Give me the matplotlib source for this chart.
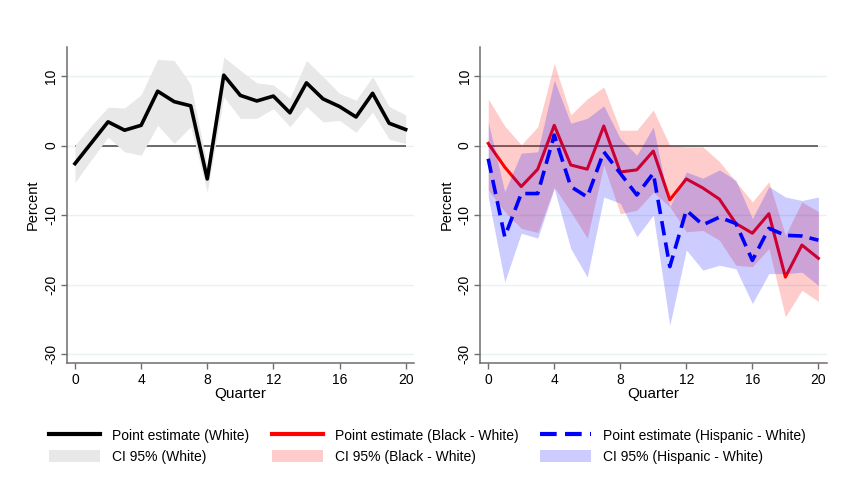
import matplotlib
matplotlib.use("Agg")
import matplotlib.pyplot as plt
from matplotlib.lines import Line2D
from matplotlib.patches import Patch

plt.rcParams['font.family'] = ['Liberation Sans', 'DejaVu Sans']
plt.rcParams['axes.unicode_minus'] = False

# data
quarters = list(range(21))

white_est = [-2.6, 0.4, 3.4, 2.2, 2.9, 7.8, 6.3, 5.7, -4.8, 10.1, 7.2,
             6.4, 7.1, 4.7, 9.0, 6.7, 5.6, 4.1, 7.5, 3.2, 2.3]
white_hi = [0.05, 2.9, 5.5, 5.4, 7.3, 12.4, 12.2, 8.8, -2.8, 12.7, 10.8,
            9.0, 8.7, 6.8, 12.2, 9.9, 7.5, 6.5, 9.9, 5.6, 4.4]
white_lo = [-5.3, -2.0, 1.2, -0.9, -1.4, 2.9, 0.3, 2.7, -6.7, 7.0, 3.9,
            3.9, 5.3, 2.7, 5.6, 3.4, 3.6, 1.9, 4.8, 0.9, 0.3]

black_est = [0.3, -3.1, -5.9, -3.4, 2.9, -2.8, -3.4, 2.8, -3.8, -3.5, -0.8,
             -7.8, -4.8, -6.1, -7.7, -11.2, -12.6, -9.8, -18.9, -14.3, -16.2]
black_hi = [6.7, 2.8, 0.1, 2.7, 11.8, 4.4, 6.7, 8.4, 2.2, 2.2, 5.1,
            0.0, -0.2, -0.2, -2.3, -5.2, -8.1, -5.2, -12.9, -8.1, -9.5]
black_lo = [-6.4, -9.5, -11.9, -12.5, -6.0, -9.5, -13.3, -2.8, -9.8, -9.3, -6.7,
            -8.8, -12.4, -12.2, -13.6, -17.2, -17.4, -14.8, -24.6, -20.8, -22.4]

hisp_est = [-1.9, -13.1, -6.9, -6.9, 1.5, -5.9, -7.4, -0.9, -4.0, -7.1, -4.0,
            -17.4, -9.3, -11.4, -10.3, -11.2, -16.5, -11.9, -12.9, -13.0, -13.6]
hisp_hi = [3.4, -6.6, -1.1, -0.9, 9.4, 3.2, 3.9, 5.7, 1.0, -1.4, 2.7,
           -8.8, -3.8, -4.7, -3.5, -5.0, -10.5, -5.9, -7.4, -7.9, -7.4]
hisp_lo = [-7.4, -19.6, -12.6, -13.3, -6.2, -14.8, -18.9, -7.4, -8.3, -13.1, -10.0,
           -25.8, -15.0, -17.9, -17.2, -17.7, -22.7, -18.4, -18.4, -18.2, -20.1]

xticks = [0, 4, 8, 12, 16, 20]
yticks = [-30, -20, -10, 0, 10]

fig = plt.figure(figsize=(8.51, 4.87), dpi=100)
ax1 = fig.add_axes([0.0784, 0.2552, 0.408, 0.649])
ax2 = fig.add_axes([0.564, 0.2552, 0.4074, 0.649])

spine_col = '#6e6e6e'
for ax in (ax1, ax2):
    ax.set_xlim(-0.5, 20.5)
    ax.set_ylim(-31.2, 14.2)
    for y in yticks:
        ax.axhline(y, color='#eaf1f1', lw=1.0, zorder=0)
    ax.hlines(0, quarters[0], quarters[-1], color='#444444', lw=1.1, zorder=1)
    ax.spines['top'].set_visible(False)
    ax.spines['right'].set_visible(False)
    ax.spines['left'].set_color(spine_col)
    ax.spines['bottom'].set_color(spine_col)
    ax.spines['left'].set_linewidth(1.1)
    ax.spines['bottom'].set_linewidth(1.1)
    ax.set_xticks(xticks)
    ax.set_yticks(yticks)
    ax.tick_params(axis='both', colors=spine_col, labelcolor='black',
                   labelsize=10, length=4, width=1.0)
    ax.tick_params(axis='y', labelrotation=90, pad=2)
    for lab in ax.get_yticklabels():
        lab.set_va('center')
    ax.set_xlabel('Quarter', fontsize=11, labelpad=0)
    ax.set_ylabel('Percent', fontsize=10.5, labelpad=3)

# left panel: white
ax1.fill_between(quarters, white_lo, white_hi, color='#e8e8e8', lw=0, zorder=2)
ax1.plot(quarters, white_est, color='black', lw=2.6, zorder=4)

# right panel: red layer first, blue band drawn over it (tints the red line)
ax2.fill_between(quarters, black_lo, black_hi, color='#ff0000', alpha=0.2, lw=0, zorder=2)
ax2.plot(quarters, black_est, color='#ff0000', lw=2.2, zorder=3)
ax2.fill_between(quarters, hisp_lo, hisp_hi, color='#0000ff', alpha=0.2, lw=0, zorder=4)
ax2.plot(quarters, hisp_est, color='#0000ff', lw=2.6, dashes=(4, 2), zorder=5)

# legend: three columns, two rows
groups = [
    (0.0576, 'black', 'solid', '#e8e8e8', 'White'),
    (0.3196, '#ff0000', 'solid', '#ffcccc', 'Black - White'),
    (0.6345, '#0000ff', 'dashed', '#ccccff', 'Hispanic - White'),
]
for x0, lc, ls, fc, name in groups:
    if ls == 'dashed':
        h1 = Line2D([], [], color=lc, lw=3, dashes=(4, 2))
    else:
        h1 = Line2D([], [], color=lc, lw=3)
    h2 = Patch(facecolor=fc, edgecolor='none')
    fig.legend([h1, h2], [f'Point estimate ({name})', f'CI 95% ({name})'],
               loc='upper left', bbox_to_anchor=(x0, 0.12), frameon=False,
               fontsize=10.0, handlelength=3.7, handleheight=1.0,
               handletextpad=0.85, labelspacing=0.5, borderpad=0, borderaxespad=0)

fig.savefig('out.png', dpi=100)
